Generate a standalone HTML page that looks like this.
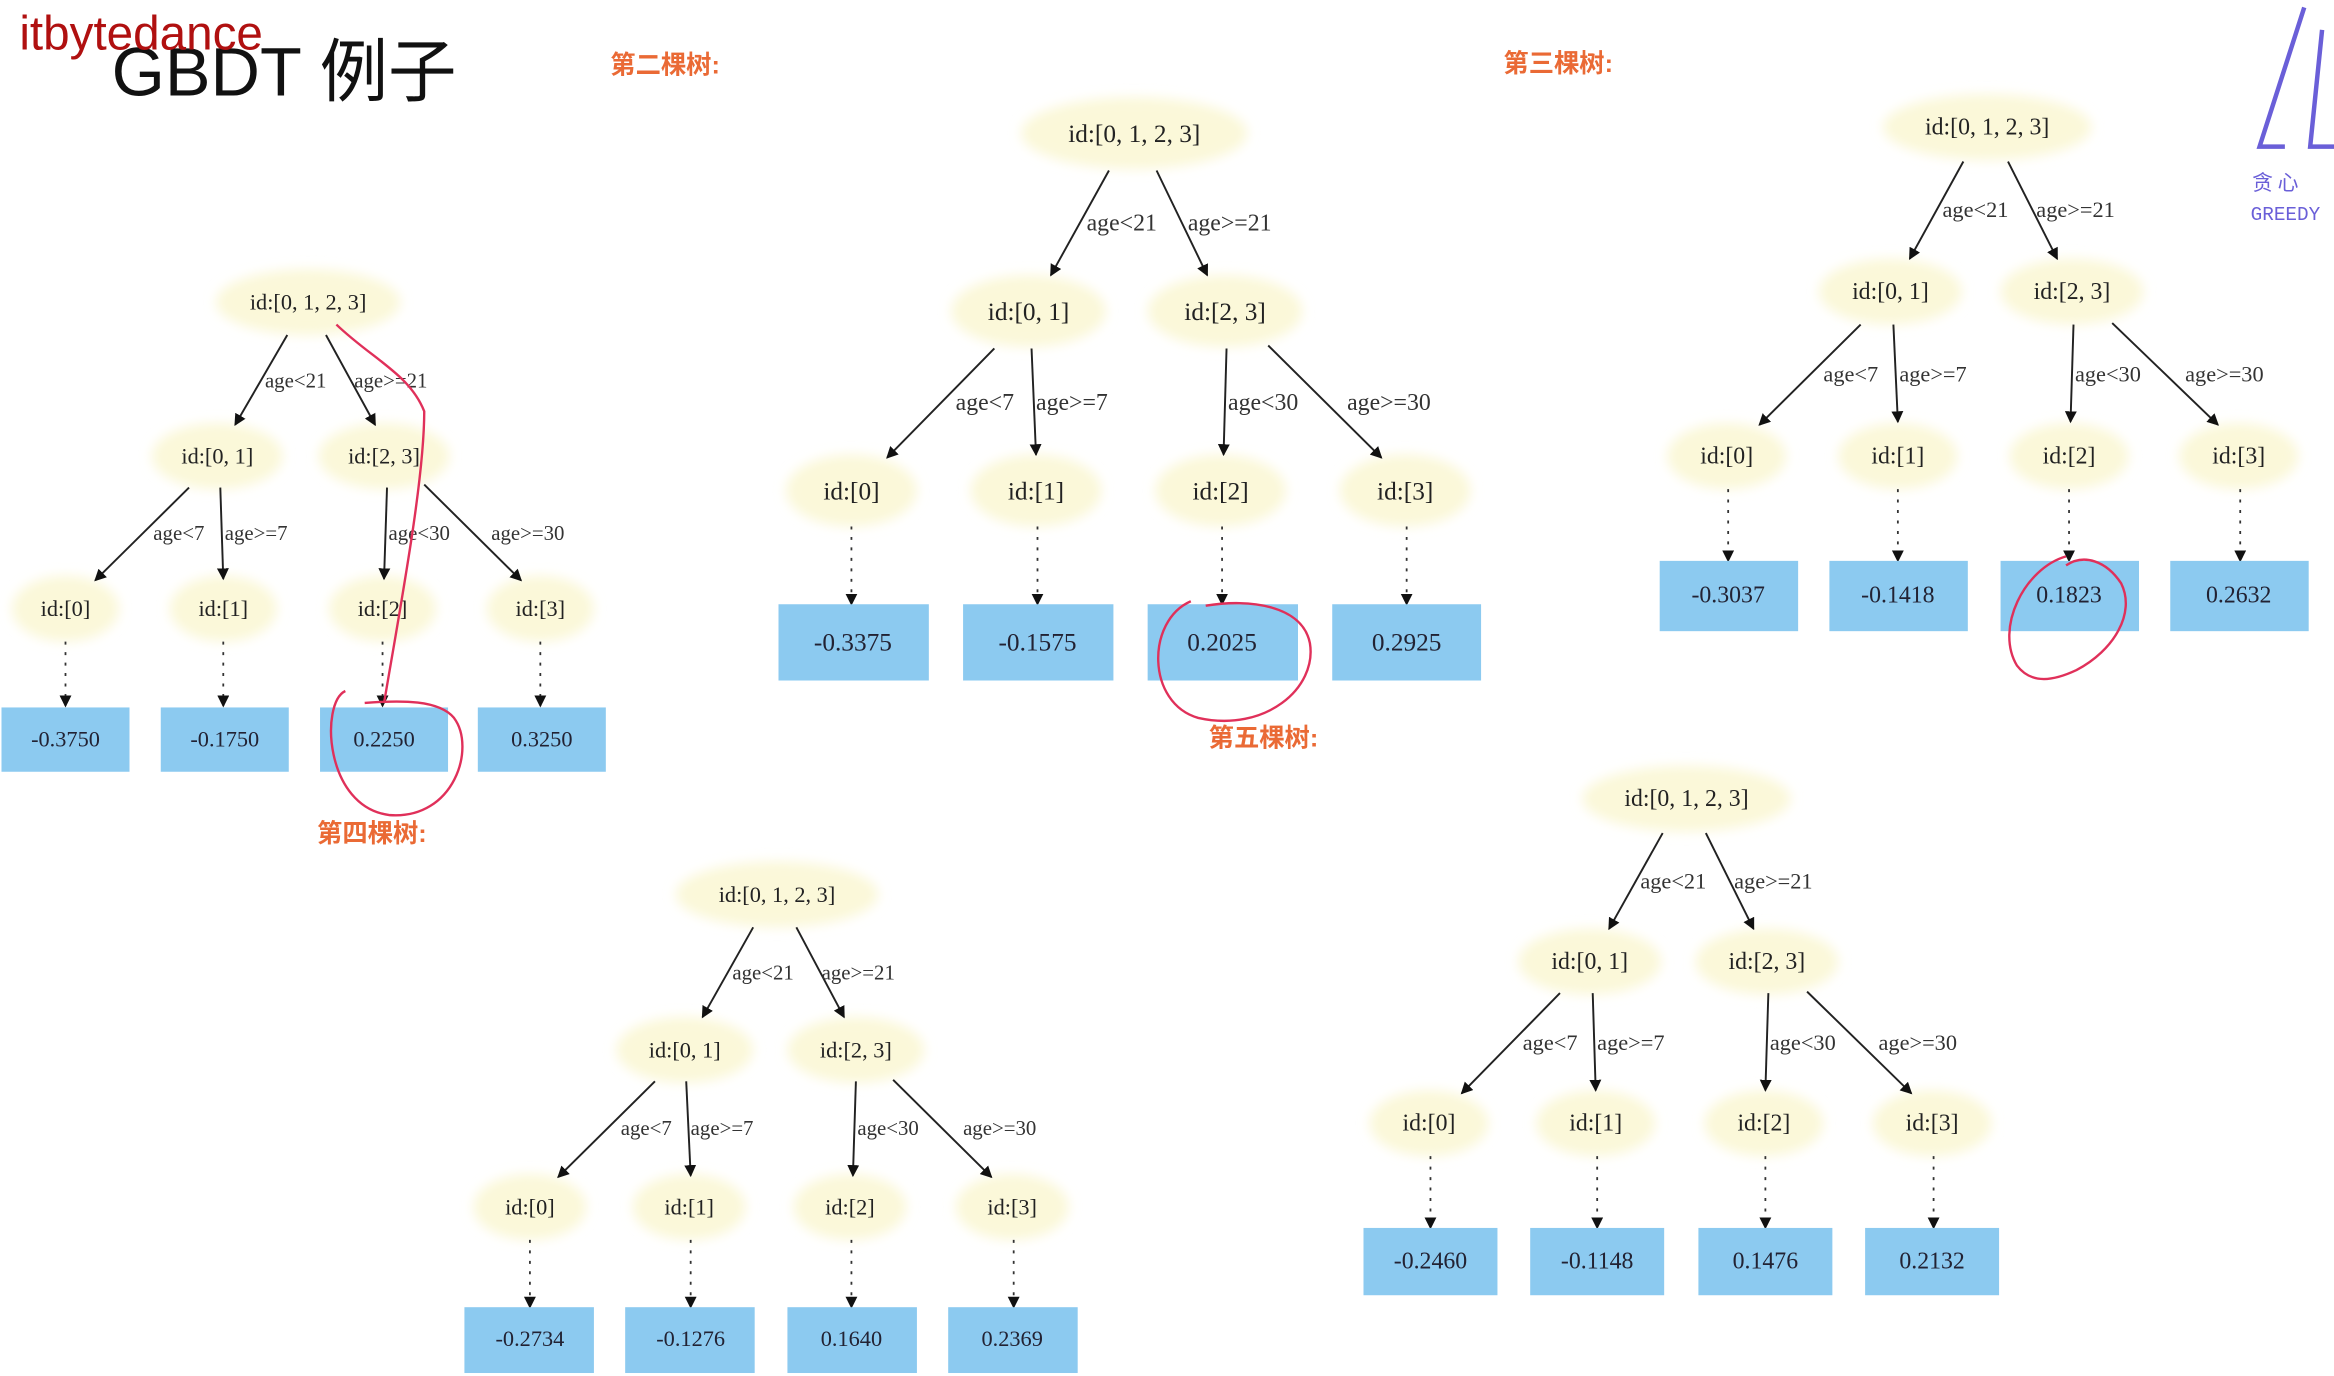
<!DOCTYPE html>
<html><head><meta charset="utf-8"><style>
html,body{margin:0;padding:0;background:#fff;}
svg{display:block;}
.n{fill:#fbf8d9;}
.t{font-family:"Liberation Serif","Noto Serif CJK SC",serif;font-size:15px;fill:#222;text-anchor:middle;}
.e{font-family:"Liberation Serif",serif;font-size:14px;fill:#333;}
.lf{fill:#8ccaf0;}
.lt{font-family:"Liberation Serif",serif;font-size:15px;fill:#223;text-anchor:middle;}
.s{stroke:#222;stroke-width:1.3;fill:none;marker-end:url(#a);}
.d{stroke:#333;stroke-width:1.2;fill:none;stroke-dasharray:2 5;marker-end:url(#a);}
.o{font-family:"Liberation Sans","Noto Sans CJK SC",sans-serif;font-size:17px;font-weight:bold;fill:#ea6a35;}
.r{stroke:#e0305a;stroke-width:1.6;fill:none;}
</style></head><body>
<svg width="2334" height="1376" viewBox="0 0 1568 920" preserveAspectRatio="none" xmlns="http://www.w3.org/2000/svg">
<defs>
<marker id="a" markerWidth="8" markerHeight="8" refX="7" refY="4" orient="auto" markerUnits="userSpaceOnUse"><path d="M0,0 L8,4 L0,8 z" fill="#111"/></marker>
<filter id="b"><feGaussianBlur stdDeviation="4"/></filter>
</defs>
<rect width="1568" height="920" fill="#fff"/>
<text x="75" y="64" font-family="Liberation Sans,Noto Sans CJK SC,sans-serif" font-size="46" fill="#111">GBDT 例子</text>
<text x="13" y="33" font-family="Liberation Sans,sans-serif" font-size="32" fill="#b01010">itbytedance</text>
<text x="410" y="49" class="o">第二棵树:</text>
<text x="1010" y="48" class="o">第三棵树:</text>
<text x="213" y="563" class="o">第四棵树:</text>
<text x="812" y="499" class="o">第五棵树:</text>
<!-- logo -->
<path d="M1548,5 L1518,98 L1535,98 M1560,20 L1552,98 L1568,98" stroke="#6a5fd8" stroke-width="3" fill="none"/>
<text x="1513" y="127" font-family="Noto Sans CJK SC,sans-serif" font-size="14" fill="#6a5fd8">贪  心</text>
<text x="1512" y="147" font-family="Liberation Mono,monospace" font-size="13" fill="#6a5fd8">GREEDY</text>

<!-- TREE 1 -->
<g filter="url(#b)">
<ellipse class="n" cx="207" cy="202" rx="62" ry="22"/><ellipse class="n" cx="146" cy="305" rx="44" ry="22"/><ellipse class="n" cx="258" cy="305" rx="44" ry="22"/>
<ellipse class="n" cx="44" cy="407" rx="36" ry="22"/><ellipse class="n" cx="150" cy="407" rx="36" ry="22"/><ellipse class="n" cx="257" cy="407" rx="36" ry="22"/><ellipse class="n" cx="363" cy="407" rx="36" ry="22"/>
</g>
<text class="t" x="207" y="207">id:[0, 1, 2, 3]</text><text class="t" x="146" y="310">id:[0, 1]</text><text class="t" x="258" y="310">id:[2, 3]</text>
<text class="t" x="44" y="412">id:[0]</text><text class="t" x="150" y="412">id:[1]</text><text class="t" x="257" y="412">id:[2]</text><text class="t" x="363" y="412">id:[3]</text>
<path class="s" d="M193,224 L158,284"/><path class="s" d="M219,224 L252,284"/>
<path class="s" d="M127,326 L64,388"/><path class="s" d="M148,326 L150,387"/><path class="s" d="M260,326 L258,387"/><path class="s" d="M285,324 L350,388"/>
<text class="e" x="178" y="259">age&lt;21</text><text class="e" x="238" y="259">age&gt;=21</text>
<text class="e" x="103" y="361">age&lt;7</text><text class="e" x="151" y="361">age&gt;=7</text><text class="e" x="261" y="361">age&lt;30</text><text class="e" x="330" y="361">age&gt;=30</text>
<path class="d" d="M44,429 L44,472"/><path class="d" d="M150,429 L150,472"/><path class="d" d="M257,429 L257,472"/><path class="d" d="M363,429 L363,472"/>
<rect class="lf" x="1" y="473" width="86" height="43"/><rect class="lf" x="108" y="473" width="86" height="43"/><rect class="lf" x="215" y="473" width="86" height="43"/><rect class="lf" x="321" y="473" width="86" height="43"/>
<text class="lt" x="44" y="499">-0.3750</text><text class="lt" x="151" y="499">-0.1750</text><text class="lt" x="258" y="499">0.2250</text><text class="lt" x="364" y="499">0.3250</text>
<path class="r" d="M226,217 C250,240 275,250 285,275 C285,320 270,400 258,470"/>
<path class="r" d="M232,462 C215,470 218,540 262,545 C305,548 320,500 305,480 C295,468 270,468 245,470"/>

<!-- TREE 2 -->
<g filter="url(#b)">
<ellipse class="n" cx="762" cy="89" rx="76" ry="24"/><ellipse class="n" cx="691" cy="208" rx="52" ry="24"/><ellipse class="n" cx="823" cy="208" rx="52" ry="24"/>
<ellipse class="n" cx="572" cy="328" rx="44" ry="24"/><ellipse class="n" cx="696" cy="328" rx="44" ry="24"/><ellipse class="n" cx="820" cy="328" rx="44" ry="24"/><ellipse class="n" cx="944" cy="328" rx="44" ry="24"/>
</g>
<text class="t" x="762" y="95" style="font-size:17px">id:[0, 1, 2, 3]</text><text class="t" x="691" y="214" style="font-size:17px">id:[0, 1]</text><text class="t" x="823" y="214" style="font-size:17px">id:[2, 3]</text>
<text class="t" x="572" y="334" style="font-size:17px">id:[0]</text><text class="t" x="696" y="334" style="font-size:17px">id:[1]</text><text class="t" x="820" y="334" style="font-size:17px">id:[2]</text><text class="t" x="944" y="334" style="font-size:17px">id:[3]</text>
<path class="s" d="M745,114 L706,184"/><path class="s" d="M777,114 L811,184"/>
<path class="s" d="M668,233 L596,306"/><path class="s" d="M693,233 L696,304"/><path class="s" d="M824,233 L822,304"/><path class="s" d="M852,231 L928,306"/>
<text class="e" x="730" y="154" style="font-size:16px">age&lt;21</text><text class="e" x="798" y="154" style="font-size:16px">age&gt;=21</text>
<text class="e" x="642" y="274" style="font-size:16px">age&lt;7</text><text class="e" x="696" y="274" style="font-size:16px">age&gt;=7</text><text class="e" x="825" y="274" style="font-size:16px">age&lt;30</text><text class="e" x="905" y="274" style="font-size:16px">age&gt;=30</text>
<path class="d" d="M572,352 L572,404"/><path class="d" d="M697,352 L697,404"/><path class="d" d="M821,352 L821,404"/><path class="d" d="M945,352 L945,404"/>
<rect class="lf" x="523" y="404" width="101" height="51"/><rect class="lf" x="647" y="404" width="101" height="51"/><rect class="lf" x="771" y="404" width="101" height="51"/><rect class="lf" x="895" y="404" width="100" height="51"/>
<text class="lt" x="573" y="435" style="font-size:17px">-0.3375</text><text class="lt" x="697" y="435" style="font-size:17px">-0.1575</text><text class="lt" x="821" y="435" style="font-size:17px">0.2025</text><text class="lt" x="945" y="435" style="font-size:17px">0.2925</text>
<path class="r" d="M800,402 C770,415 770,470 805,480 C850,490 885,460 880,430 C875,405 840,400 810,405"/>

<!-- TREE 3 -->
<g filter="url(#b)">
<ellipse class="n" cx="1335" cy="85" rx="70" ry="22"/><ellipse class="n" cx="1270" cy="195" rx="48" ry="22"/><ellipse class="n" cx="1392" cy="195" rx="48" ry="22"/>
<ellipse class="n" cx="1160" cy="305" rx="40" ry="22"/><ellipse class="n" cx="1275" cy="305" rx="40" ry="22"/><ellipse class="n" cx="1390" cy="305" rx="40" ry="22"/><ellipse class="n" cx="1504" cy="305" rx="40" ry="22"/>
</g>
<text class="t" x="1335" y="90" style="font-size:16px">id:[0, 1, 2, 3]</text><text class="t" x="1270" y="200" style="font-size:16px">id:[0, 1]</text><text class="t" x="1392" y="200" style="font-size:16px">id:[2, 3]</text>
<text class="t" x="1160" y="310" style="font-size:16px">id:[0]</text><text class="t" x="1275" y="310" style="font-size:16px">id:[1]</text><text class="t" x="1390" y="310" style="font-size:16px">id:[2]</text><text class="t" x="1504" y="310" style="font-size:16px">id:[3]</text>
<path class="s" d="M1319,108 L1283,173"/><path class="s" d="M1349,108 L1382,173"/>
<path class="s" d="M1250,217 L1182,284"/><path class="s" d="M1272,217 L1275,282"/><path class="s" d="M1393,217 L1391,282"/><path class="s" d="M1419,216 L1490,284"/>
<text class="e" x="1305" y="145" style="font-size:15px">age&lt;21</text><text class="e" x="1368" y="145" style="font-size:15px">age&gt;=21</text>
<text class="e" x="1225" y="255" style="font-size:15px">age&lt;7</text><text class="e" x="1276" y="255" style="font-size:15px">age&gt;=7</text><text class="e" x="1394" y="255" style="font-size:15px">age&lt;30</text><text class="e" x="1468" y="255" style="font-size:15px">age&gt;=30</text>
<path class="d" d="M1161,327 L1161,375"/><path class="d" d="M1275,327 L1275,375"/><path class="d" d="M1390,327 L1390,375"/><path class="d" d="M1505,327 L1505,375"/>
<rect class="lf" x="1115" y="375" width="93" height="47"/><rect class="lf" x="1229" y="375" width="93" height="47"/><rect class="lf" x="1344" y="375" width="93" height="47"/><rect class="lf" x="1458" y="375" width="93" height="47"/>
<text class="lt" x="1161" y="403" style="font-size:16px">-0.3037</text><text class="lt" x="1275" y="403" style="font-size:16px">-0.1418</text><text class="lt" x="1390" y="403" style="font-size:16px">0.1823</text><text class="lt" x="1504" y="403" style="font-size:16px">0.2632</text>
<path class="r" d="M1388,372 C1360,380 1340,420 1355,445 C1365,458 1380,455 1395,448 C1420,435 1435,410 1425,390 C1415,375 1400,370 1388,378"/>

<!-- TREE 4 -->
<g filter="url(#b)">
<ellipse class="n" cx="522" cy="598" rx="68" ry="22"/><ellipse class="n" cx="460" cy="702" rx="46" ry="22"/><ellipse class="n" cx="575" cy="702" rx="46" ry="22"/>
<ellipse class="n" cx="356" cy="807" rx="38" ry="22"/><ellipse class="n" cx="463" cy="807" rx="38" ry="22"/><ellipse class="n" cx="571" cy="807" rx="38" ry="22"/><ellipse class="n" cx="680" cy="807" rx="38" ry="22"/>
</g>
<text class="t" x="522" y="603">id:[0, 1, 2, 3]</text><text class="t" x="460" y="707">id:[0, 1]</text><text class="t" x="575" y="707">id:[2, 3]</text>
<text class="t" x="356" y="812">id:[0]</text><text class="t" x="463" y="812">id:[1]</text><text class="t" x="571" y="812">id:[2]</text><text class="t" x="680" y="812">id:[3]</text>
<path class="s" d="M506,620 L472,680"/><path class="s" d="M535,620 L567,680"/>
<path class="s" d="M440,723 L375,787"/><path class="s" d="M461,723 L464,786"/><path class="s" d="M575,723 L573,786"/><path class="s" d="M600,722 L666,787"/>
<text class="e" x="492" y="655">age&lt;21</text><text class="e" x="552" y="655">age&gt;=21</text>
<text class="e" x="417" y="759">age&lt;7</text><text class="e" x="464" y="759">age&gt;=7</text><text class="e" x="576" y="759">age&lt;30</text><text class="e" x="647" y="759">age&gt;=30</text>
<path class="d" d="M356,829 L356,874"/><path class="d" d="M464,829 L464,874"/><path class="d" d="M572,829 L572,874"/><path class="d" d="M681,829 L681,874"/>
<rect class="lf" x="312" y="874" width="87" height="44"/><rect class="lf" x="420" y="874" width="87" height="44"/><rect class="lf" x="529" y="874" width="87" height="44"/><rect class="lf" x="637" y="874" width="87" height="44"/>
<text class="lt" x="356" y="900">-0.2734</text><text class="lt" x="464" y="900">-0.1276</text><text class="lt" x="572" y="900">0.1640</text><text class="lt" x="680" y="900">0.2369</text>

<!-- TREE 5 -->
<g filter="url(#b)">
<ellipse class="n" cx="1133" cy="534" rx="70" ry="22"/><ellipse class="n" cx="1068" cy="643" rx="48" ry="22"/><ellipse class="n" cx="1187" cy="643" rx="48" ry="22"/>
<ellipse class="n" cx="960" cy="751" rx="40" ry="22"/><ellipse class="n" cx="1072" cy="751" rx="40" ry="22"/><ellipse class="n" cx="1185" cy="751" rx="40" ry="22"/><ellipse class="n" cx="1298" cy="751" rx="40" ry="22"/>
</g>
<text class="t" x="1133" y="539" style="font-size:16px">id:[0, 1, 2, 3]</text><text class="t" x="1068" y="648" style="font-size:16px">id:[0, 1]</text><text class="t" x="1187" y="648" style="font-size:16px">id:[2, 3]</text>
<text class="t" x="960" y="756" style="font-size:16px">id:[0]</text><text class="t" x="1072" y="756" style="font-size:16px">id:[1]</text><text class="t" x="1185" y="756" style="font-size:16px">id:[2]</text><text class="t" x="1298" y="756" style="font-size:16px">id:[3]</text>
<path class="s" d="M1117,557 L1081,621"/><path class="s" d="M1146,557 L1178,621"/>
<path class="s" d="M1048,664 L982,731"/><path class="s" d="M1070,664 L1072,729"/><path class="s" d="M1188,664 L1186,729"/><path class="s" d="M1214,663 L1284,731"/>
<text class="e" x="1102" y="594" style="font-size:15px">age&lt;21</text><text class="e" x="1165" y="594" style="font-size:15px">age&gt;=21</text>
<text class="e" x="1023" y="702" style="font-size:15px">age&lt;7</text><text class="e" x="1073" y="702" style="font-size:15px">age&gt;=7</text><text class="e" x="1189" y="702" style="font-size:15px">age&lt;30</text><text class="e" x="1262" y="702" style="font-size:15px">age&gt;=30</text>
<path class="d" d="M961,773 L961,821"/><path class="d" d="M1073,773 L1073,821"/><path class="d" d="M1186,773 L1186,821"/><path class="d" d="M1299,773 L1299,821"/>
<rect class="lf" x="916" y="821" width="90" height="45"/><rect class="lf" x="1028" y="821" width="90" height="45"/><rect class="lf" x="1141" y="821" width="90" height="45"/><rect class="lf" x="1253" y="821" width="90" height="45"/>
<text class="lt" x="961" y="848" style="font-size:16px">-0.2460</text><text class="lt" x="1073" y="848" style="font-size:16px">-0.1148</text><text class="lt" x="1186" y="848" style="font-size:16px">0.1476</text><text class="lt" x="1298" y="848" style="font-size:16px">0.2132</text>
</svg>
</body></html>
